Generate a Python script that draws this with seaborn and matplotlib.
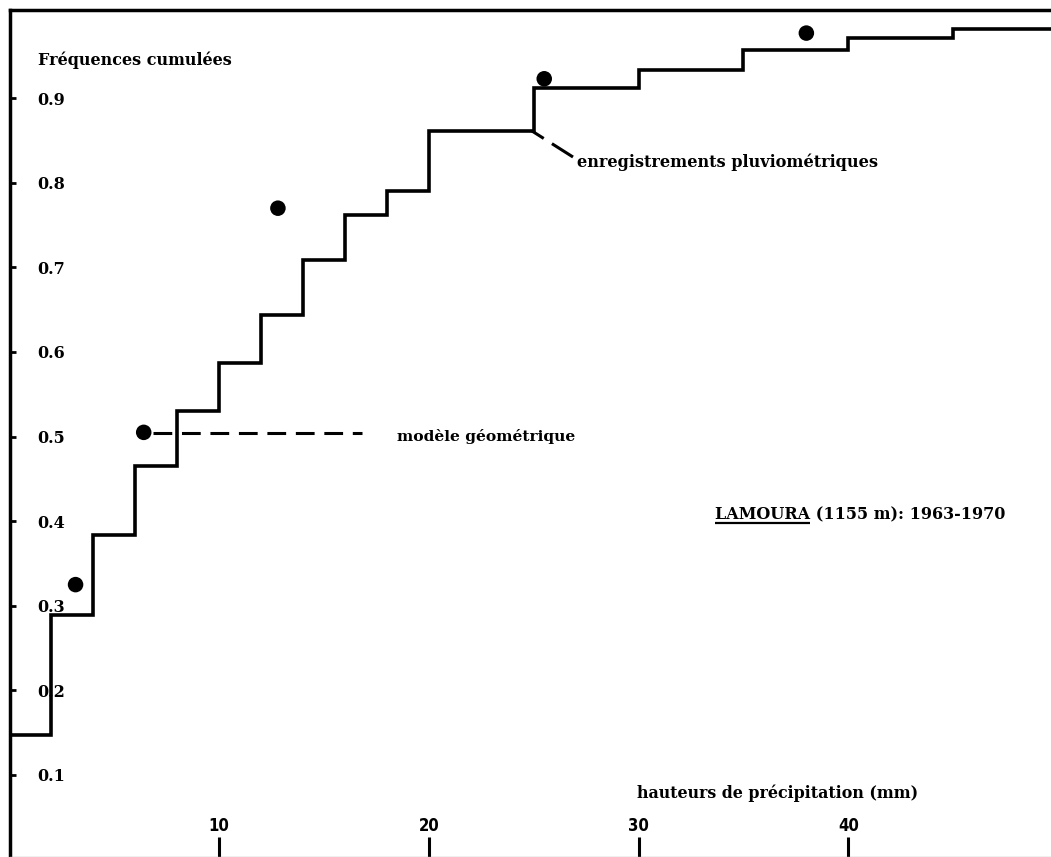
import matplotlib
matplotlib.use("Agg")
import matplotlib.pyplot as plt
import seaborn as sns
import pandas as pd

# ---------------- data ----------------
step_x = [0, 2, 4, 6, 8, 10, 12, 14, 16, 18, 20, 25, 30, 35, 40, 45, 50]
step_y = [0.147, 0.289, 0.384, 0.465, 0.530, 0.587, 0.644, 0.709, 0.762,
          0.790, 0.861, 0.912, 0.933, 0.957, 0.971, 0.982, 0.982]
model_x = [3.15, 6.4, 12.8, 25.5, 38.0]
model_y = [0.325, 0.505, 0.770, 0.923, 0.977]
y_ticks = [0.1, 0.2, 0.3, 0.4, 0.5, 0.6, 0.7, 0.8, 0.9]
y_tick_labels = ["0.1", "0.2", "0.3", "0.4", "0.5", "0.6", "0.7", "0.8", "0.9"]
x_ticks = [10, 20, 30, 40]
x_tick_labels = ["10", "20", "30", "40"]

y_title = "Fréquences cumulées"
x_title = "hauteurs de précipitation (mm)"
label_model = "modèle géométrique"
label_records = "enregistrements pluviométriques"
station = "LAMOURA"
station_rest = " (1155 m): 1963-1970"

# ---------------- style ----------------
sns.set_theme(style="white")
plt.rcParams['font.family'] = ['DejaVu Serif', 'DejaVu Sans']
plt.rcParams['lines.scale_dashes'] = False

W, H = 1051, 857
fig = plt.figure(figsize=(W / 100, H / 100), dpi=100)
fig.patch.set_facecolor("white")
x0px, pxmm = 9.5, 20.97
ax = fig.add_axes([x0px / W, 0, 1 - x0px / W, (H - 10) / H])
ax.set_facecolor("white")

steps = pd.DataFrame({"x": step_x, "y": step_y})
model = pd.DataFrame({"x": model_x, "y": model_y})

sns.lineplot(data=steps, x="x", y="y", drawstyle="steps-post", color="black",
             linewidth=2.6, estimator=None, sort=False, ax=ax,
             solid_joinstyle="miter", solid_capstyle="butt")
sns.scatterplot(data=model, x="x", y="y", s=125, color="black",
                edgecolor="none", ax=ax, zorder=5)

ax.set_xlim(0, (W - x0px) / pxmm)
ax.set_ylim(0.003, 1.0043)
ax.set_xlabel("")
ax.set_ylabel("")

for side in ["left", "top"]:
    ax.spines[side].set_visible(True)
    ax.spines[side].set_color("black")
    ax.spines[side].set_linewidth(2.5)
ax.spines["right"].set_visible(False)
ax.spines["bottom"].set_color("#b5b5b5")
ax.spines["bottom"].set_linewidth(1.0)

ax.set_yticks(y_ticks)
ax.set_yticklabels(y_tick_labels, ha="left", fontweight="bold", fontsize=11.5)
ax.tick_params(axis="y", direction="in", length=4, width=2, pad=-20,
               colors="black", left=True)
ax.set_xticks(x_ticks)
ax.set_xticklabels(x_tick_labels, fontweight="bold", fontsize=12,
                   family="DejaVu Sans", fontstretch="condensed")
ax.tick_params(axis="x", direction="in", length=14.5, width=2.2, pad=-29,
               colors="black", bottom=True)
ax.grid(False)

fig.canvas.draw()
renderer = fig.canvas.get_renderer()


def fitted_text(x, y, s, width_px, **kw):
    t = ax.text(x, y, s, fontsize=12, fontweight="bold", color="black",
                va="center", ha="left", **kw)
    w = t.get_window_extent(renderer).width
    t.set_fontsize(12 * width_px / w)
    return t


def px2x(px):
    return (px - x0px) / pxmm


def py2y(py):
    return 0.1 + (775 - py) / 846


fitted_text(px2x(38), py2y(60), y_title, 193)
fitted_text(px2x(397), py2y(437), label_model, 178)
fitted_text(px2x(577), py2y(162), label_records, 301)
fitted_text(px2x(637), py2y(793), x_title, 280)
t_station = fitted_text(px2x(715), py2y(515), station + station_rest, 288)

# underline of the station name
fs = t_station.get_fontsize()
tmp = ax.text(px2x(715), py2y(515), station, fontsize=fs, fontweight="bold",
              va="center", ha="left")
bb = tmp.get_window_extent(renderer)
tmp.remove()
inv = ax.transData.inverted()
ux0 = inv.transform((bb.x0, 0))[0]
ux1 = inv.transform((bb.x1, 0))[0]
ax.plot([ux0, ux1], [py2y(523), py2y(523)], color="black", lw=1.6,
        solid_capstyle="butt")

# leader lines
ax.plot([px2x(153), px2x(362)], [py2y(433), py2y(433)], color="black",
        lw=2.2, dashes=(13.5, 7), solid_capstyle="butt", dash_capstyle="butt")
ax.plot([px2x(532), px2x(573)], [py2y(131), py2y(157)], color="black",
        lw=2.2, dashes=(10, 7, 20, 0), dash_capstyle="butt")

fig.savefig("out.png", dpi=100, facecolor="white")
